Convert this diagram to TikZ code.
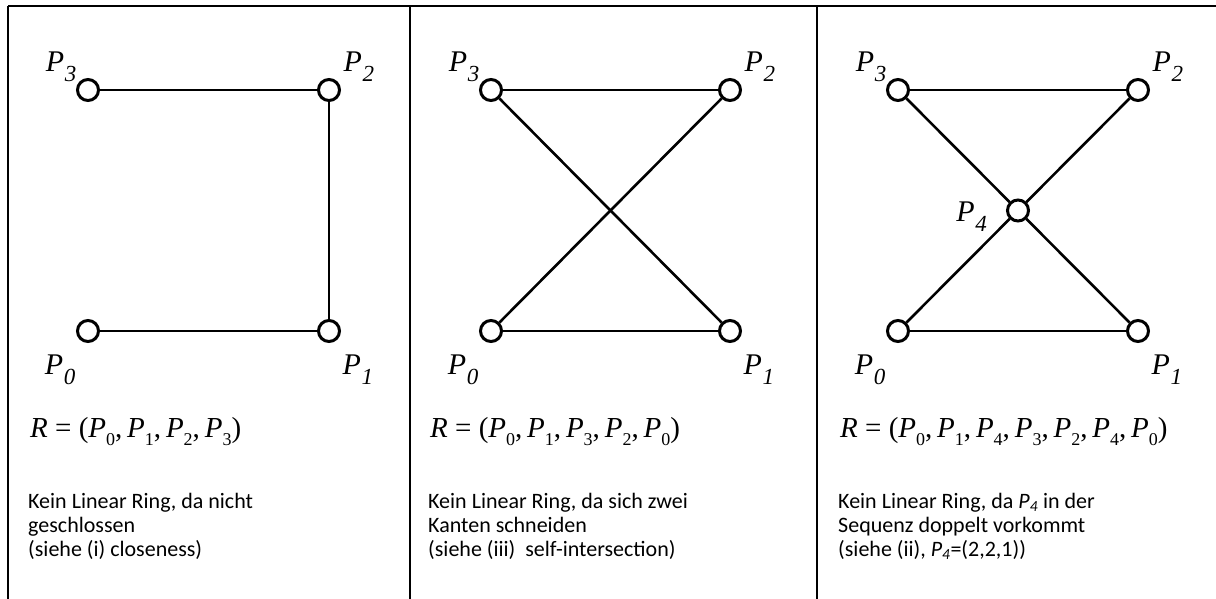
\documentclass[tikz,border=0pt]{standalone}
\usepackage{fontspec}
\setmainfont{Carlito}
\newfontfamily\serifP{Liberation Serif}
\usetikzlibrary{positioning,calc}

% point label with lowered index, and point inside the formula
\newcommand{\lab}[1]{{\serifP\itshape P\kern0.5pt\raisebox{-0.33em}{\fontsize{23}{23}\selectfont #1}}}
\newcommand{\fp}[1]{\textit{P}\raisebox{-0.3em}{\fontsize{18}{18}\selectfont #1}}

\tikzset{
  vtx/.style={circle,draw=black,fill=white,line width=3pt,
              minimum size=21pt,inner sep=0pt},
  edg/.style={line width=2.6pt,black},
  frame/.style={line width=2pt,black},
  plab/.style={inner sep=0pt,font=\fontsize{30}{34}\selectfont},
  eqn/.style={inner sep=0pt,anchor=base west,
              font=\serifP\fontsize{29}{33}\selectfont},
  note/.style={inner sep=0pt,anchor=north west,align=left,
               font=\fontsize{22}{24}\selectfont},
}

\begin{document}
\begin{tikzpicture}[x=1pt,y=1pt,on grid]
\useasboundingbox (0,0) rectangle (1216,-599);

% table lines
\draw[frame] (8,-6) -- (1216,-6);
\foreach \xx in {8,410,817}
  \draw[frame] (\xx,-6) -- (\xx,-599);

% (a) open ring
\node[vtx] (a0) at (88,-331) {};
\node[vtx, right=241pt of a0] (a1) {};
\node[vtx, above=241pt of a1] (a2) {};
\node[vtx, left=241pt of a2] (a3) {};
\draw[edg] (a0) -- (a1);
\draw[edg] (a1) -- (a2);
\draw[edg] (a2) -- (a3);
\node[plab, anchor=north east] (l0) at ([shift={(-4pt,-15pt)}]a0.south west) {\lab{0}};
\node[plab, anchor=north west] (l1) at ([shift={(5pt,-15pt)}]a1.south east) {\lab{1}};
\node[plab, anchor=south west] (l2) at ([shift={(6pt,0pt)}]a2.north east) {\lab{2}};
\node[plab, anchor=south east] (l3) at ([shift={(-3pt,0pt)}]a3.north west) {\lab{3}};
\node[eqn] (eq1) at (30,-437) {\textit{R} = (\fp{0},\,\fp{1},\,\fp{2},\,\fp{3})};
\node[note] (n1) at (28,-493) {Kein Linear Ring, da nicht\\geschlossen\\(siehe (i) closeness)};

% (b) self-intersection
\node[vtx] (b0) at (491,-331) {};
\node[vtx, right=239pt of b0] (b1) {};
\node[vtx, above=241pt of b1] (b2) {};
\node[vtx, left=239pt of b2] (b3) {};
\draw[edg] (b0) -- (b1);
\draw[edg] (b1) -- (b3);
\draw[edg] (b3) -- (b2);
\draw[edg] (b2) -- (b0);
\node[plab, anchor=north east] (m0) at ([shift={(-4pt,-15pt)}]b0.south west) {\lab{0}};
\node[plab, anchor=north west] (m1) at ([shift={(5pt,-15pt)}]b1.south east) {\lab{1}};
\node[plab, anchor=south west] (m2) at ([shift={(6pt,0pt)}]b2.north east) {\lab{2}};
\node[plab, anchor=south east] (m3) at ([shift={(-3pt,0pt)}]b3.north west) {\lab{3}};
\node[eqn] (eq2) at (430,-437) {\textit{R} = (\fp{0},\,\fp{1},\,\fp{3},\,\fp{2},\,\fp{0})};
\node[note] (n2) at (428,-493) {Kein Linear Ring, da sich zwei\\Kanten schneiden\\(siehe (iii)~ self-intersection)};

% (c) repeated point
\node[vtx] (c0) at (898,-331) {};
\node[vtx, right=240pt of c0] (c1) {};
\node[vtx, above=241pt of c1] (c2) {};
\node[vtx, left=240pt of c2] (c3) {};
\node[vtx] (c4) at ($(c0)!0.5!(c2)$) {};
\draw[edg] (c0) -- (c1);
\draw[edg] (c1) -- (c4);
\draw[edg] (c4) -- (c3);
\draw[edg] (c3) -- (c2);
\draw[edg] (c2) -- (c4);
\draw[edg] (c4) -- (c0);
\node[plab, anchor=north east] (k0) at ([shift={(-4pt,-15pt)}]c0.south west) {\lab{0}};
\node[plab, anchor=north west] (k1) at ([shift={(5pt,-15pt)}]c1.south east) {\lab{1}};
\node[plab, anchor=south west] (k2) at ([shift={(6pt,0pt)}]c2.north east) {\lab{2}};
\node[plab, anchor=south east] (k3) at ([shift={(-3pt,0pt)}]c3.north west) {\lab{3}};
\node[plab, anchor=east] (k4) at ([shift={(-19pt,-6pt)}]c4.west) {\lab{4}};
\node[eqn] (eq3) at (840,-437) {\textit{R} = (\fp{0},\,\fp{1},\,\fp{4},\,\fp{3},\,\fp{2},\,\fp{4},\,\fp{0})};
\node[note] (n3) at (838,-493) {Kein Linear Ring, da \textit{P\textsubscript{4}} in der\\Sequenz doppelt vorkommt\\(siehe (ii), \textit{P\textsubscript{4}}=(2,2,1))};
\end{tikzpicture}
\end{document}
